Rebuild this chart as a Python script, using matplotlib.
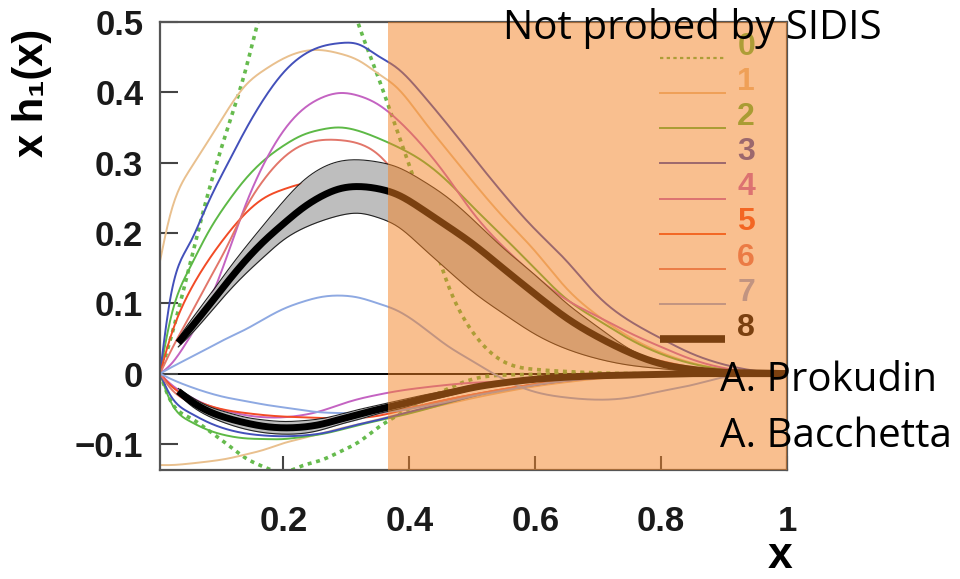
import numpy as np
import matplotlib
matplotlib.use("Agg")
import matplotlib.pyplot as plt

# ---------------- data ----------------
x_grid = [0.004, 0.02, 0.05, 0.08, 0.11, 0.14, 0.17, 0.2, 0.23, 0.26, 0.29, 0.32, 0.35,
          0.38, 0.42, 0.46, 0.5, 0.55, 0.6, 0.65, 0.7, 0.75, 0.8, 0.85, 0.9, 0.95, 1.0]
x_band = [0.033, 0.05, 0.08, 0.11, 0.14, 0.17, 0.2, 0.23, 0.26, 0.29, 0.32, 0.35,
          0.38, 0.42, 0.46, 0.5, 0.55, 0.6, 0.65, 0.7, 0.75, 0.8, 0.85, 0.9, 0.95, 1.0]

# positive branch (models 0..7)
pos0 = [0.0, 0.047, 0.15, 0.255, 0.345, 0.432, 0.535, 0.60, 0.629, 0.62, 0.573, 0.495, 0.423,
        0.347, 0.243, 0.13, 0.06, 0.017, 0.006, 0.003, 0.001, 0, 0, 0, 0, 0, 0]
pos1 = [0.16, 0.225, 0.288, 0.33, 0.373, 0.41, 0.432, 0.448, 0.458, 0.46, 0.455, 0.445, 0.427,
        0.407, 0.363, 0.318, 0.274, 0.222, 0.174, 0.121, 0.082, 0.052, 0.03, 0.015, 0.006, 0.002, 0.0]
pos2 = [0.0, 0.075, 0.148, 0.2, 0.242, 0.277, 0.304, 0.324, 0.339, 0.347, 0.35, 0.345, 0.335,
        0.323, 0.303, 0.274, 0.238, 0.194, 0.149, 0.106, 0.076, 0.049, 0.028, 0.014, 0.006, 0.002, 0.0]
pos3 = [0.0, 0.105, 0.183, 0.242, 0.296, 0.347, 0.392, 0.428, 0.452, 0.465, 0.47, 0.468, 0.452,
        0.435, 0.398, 0.355, 0.31, 0.255, 0.205, 0.16, 0.11, 0.075, 0.05, 0.028, 0.013, 0.004, 0.0]
pos4 = [0.0, 0.012, 0.05, 0.098, 0.166, 0.24, 0.3, 0.345, 0.375, 0.392, 0.399, 0.395, 0.383,
        0.362, 0.325, 0.28, 0.23, 0.18, 0.139, 0.105, 0.081, 0.058, 0.038, 0.02, 0.008, 0.002, 0.0]
pos5 = [0.0, 0.05, 0.115, 0.16, 0.197, 0.228, 0.25, 0.262, 0.27, 0.273, 0.27, 0.262, 0.252,
        0.24, 0.218, 0.196, 0.167, 0.131, 0.097, 0.069, 0.047, 0.029, 0.016, 0.008, 0.003, 0.001, 0.0]
pos6 = [0.0, 0.03, 0.08, 0.13, 0.18, 0.235, 0.277, 0.307, 0.325, 0.332, 0.332, 0.327, 0.312,
        0.282, 0.235, 0.2, 0.165, 0.127, 0.095, 0.07, 0.049, 0.03, 0.018, 0.009, 0.004, 0.001, 0.0]
pos7 = [0.0, 0.008, 0.022, 0.036, 0.05, 0.063, 0.078, 0.092, 0.102, 0.109, 0.111, 0.108, 0.1,
        0.09, 0.067, 0.04, 0.018, -0.008, -0.026, -0.034, -0.037, -0.034, -0.025, -0.016, -0.005, -0.001, 0.0]
# model 8 (central curve and band)
pos8 = [0.044, 0.062, 0.095, 0.129, 0.161, 0.189, 0.213, 0.235, 0.252, 0.263, 0.266, 0.263,
        0.255, 0.234, 0.21, 0.185, 0.149, 0.113, 0.079, 0.052, 0.03, 0.014, 0.006, 0.002, 0.001, 0.0]
pos8_hi = [0.05, 0.072, 0.108, 0.145, 0.18, 0.213, 0.245, 0.273, 0.292, 0.302, 0.304, 0.301,
           0.294, 0.275, 0.251, 0.22, 0.178, 0.14, 0.1, 0.066, 0.035, 0.016, 0.006, 0.002, 0.001, 0.0]
pos8_lo = [0.038, 0.053, 0.083, 0.114, 0.142, 0.167, 0.19, 0.206, 0.217, 0.225, 0.228, 0.222,
           0.21, 0.18, 0.148, 0.117, 0.085, 0.056, 0.035, 0.021, 0.012, 0.007, 0.003, 0.001, 0.0, 0.0]

# negative branch (models 0..7)
neg0 = [0.0, -0.037, -0.062, -0.08, -0.1, -0.12, -0.133, -0.14, -0.131, -0.123, -0.111, -0.097, -0.077,
        -0.06, -0.04, -0.022, -0.008, -0.002, -0.001, 0, 0, 0, 0, 0, 0, 0, 0]
neg1 = [-0.13, -0.13, -0.128, -0.125, -0.121, -0.115, -0.108, -0.099, -0.092, -0.085, -0.078, -0.072, -0.065,
        -0.059, -0.051, -0.043, -0.035, -0.026, -0.018, -0.012, -0.007, -0.004, -0.002, -0.001, 0, 0, 0]
neg2 = [0.0, -0.038, -0.067, -0.08, -0.088, -0.092, -0.093, -0.093, -0.09, -0.086, -0.08, -0.073, -0.067,
        -0.061, -0.052, -0.042, -0.032, -0.023, -0.015, -0.009, -0.005, -0.002, -0.001, 0, 0, 0, 0]
neg3 = [0.0, -0.03, -0.055, -0.069, -0.079, -0.085, -0.088, -0.089, -0.088, -0.085, -0.079, -0.072, -0.066,
        -0.059, -0.05, -0.041, -0.032, -0.023, -0.016, -0.01, -0.006, -0.003, -0.001, 0, 0, 0, 0]
neg4 = [0.0, -0.014, -0.032, -0.045, -0.053, -0.059, -0.062, -0.062, -0.059, -0.053, -0.044, -0.036, -0.03,
        -0.025, -0.02, -0.016, -0.013, -0.011, -0.008, -0.006, -0.004, -0.002, -0.001, 0, 0, 0, 0]
neg5 = [0.0, -0.016, -0.034, -0.045, -0.052, -0.056, -0.059, -0.061, -0.062, -0.063, -0.064, -0.063, -0.06,
        -0.054, -0.045, -0.037, -0.03, -0.022, -0.015, -0.009, -0.005, -0.003, -0.001, 0, 0, 0, 0]
neg6 = [0.0, -0.02, -0.04, -0.052, -0.06, -0.066, -0.07, -0.072, -0.072, -0.07, -0.066, -0.062, -0.057,
        -0.052, -0.045, -0.037, -0.03, -0.022, -0.015, -0.01, -0.006, -0.003, -0.001, 0, 0, 0, 0]
neg7 = [0.0, -0.007, -0.018, -0.027, -0.034, -0.039, -0.044, -0.048, -0.052, -0.055, -0.056, -0.056, -0.055,
        -0.053, -0.047, -0.04, -0.032, -0.024, -0.016, -0.01, -0.006, -0.003, -0.001, 0, 0, 0, 0]
neg8 = [-0.025, -0.037, -0.053, -0.063, -0.07, -0.075, -0.077, -0.076, -0.072, -0.065, -0.058, -0.051,
        -0.045, -0.036, -0.028, -0.02, -0.013, -0.008, -0.005, -0.003, -0.002, -0.001, 0, 0, 0, 0]
neg8_hi = [-0.021, -0.031, -0.046, -0.055, -0.062, -0.066, -0.068, -0.067, -0.064, -0.058, -0.051, -0.045,
           -0.039, -0.031, -0.024, -0.017, -0.011, -0.006, -0.004, -0.002, -0.001, -0.001, 0, 0, 0, 0]
neg8_lo = [-0.029, -0.043, -0.06, -0.071, -0.079, -0.084, -0.086, -0.085, -0.08, -0.072, -0.065, -0.057,
           -0.051, -0.041, -0.032, -0.023, -0.015, -0.01, -0.006, -0.004, -0.002, -0.001, 0, 0, 0, 0]

legend_labels = ["0", "1", "2", "3", "4", "5", "6", "7", "8"]
x_ticks = [0.2, 0.4, 0.6, 0.8, 1.0]
x_tick_labels = ["0.2", "0.4", "0.6", "0.8", "1"]
y_ticks = [-0.1, 0, 0.1, 0.2, 0.3, 0.4, 0.5]
y_tick_labels = ["\u22120.1", "0", "0.1", "0.2", "0.3", "0.4", "0.5"]
sidis_limit = 0.366

colors = ["#66BB4E", "#E9C08E", "#5DB946", "#4350BA", "#C463C2",
          "#F24B26", "#E2766A", "#8EA9E2", "#000000"]


def smooth(x, y, n=500):
    """Natural cubic spline rendering through the read points."""
    x = np.asarray(x, float)
    y = np.asarray(y, float)
    nn = len(x)
    h = np.diff(x)
    A = np.zeros((nn, nn))
    b = np.zeros(nn)
    A[0, 0] = 1.0
    A[-1, -1] = 1.0
    for i in range(1, nn - 1):
        A[i, i - 1] = h[i - 1]
        A[i, i] = 2 * (h[i - 1] + h[i])
        A[i, i + 1] = h[i]
        b[i] = 6 * ((y[i + 1] - y[i]) / h[i] - (y[i] - y[i - 1]) / h[i - 1])
    M = np.linalg.solve(A, b)
    xs = np.linspace(x[0], x[-1], n)
    idx = np.clip(np.searchsorted(x, xs) - 1, 0, nn - 2)
    x0, x1 = x[idx], x[idx + 1]
    hh = h[idx]
    ys = (M[idx] * (x1 - xs) ** 3 / (6 * hh) + M[idx + 1] * (xs - x0) ** 3 / (6 * hh)
          + (y[idx] / hh - M[idx] * hh / 6) * (x1 - xs)
          + (y[idx + 1] / hh - M[idx + 1] * hh / 6) * (xs - x0))
    return xs, ys


fig = plt.figure(figsize=(9.6, 5.79), dpi=100)
ax = fig.add_axes([160 / 960, 1 - 470 / 579, (787 - 160) / 960, (470 - 22) / 579])

ax.axhline(0, color="black", lw=1.4, zorder=1.5)

pos = [pos0, pos1, pos2, pos3, pos4, pos5, pos6, pos7]
neg = [neg0, neg1, neg2, neg3, neg4, neg5, neg6, neg7]
for i in range(8):
    for series in (pos[i], neg[i]):
        xs, ys = smooth(x_grid, series)
        if i == 0:
            ax.plot(xs, ys, color=colors[i], lw=2.6, ls=(0, (1.1, 1.3)), zorder=2)
        else:
            ax.plot(xs, ys, color=colors[i], lw=1.4, zorder=2)

# model 8 band + thick central curve
for c, hi, lo in ((pos8, pos8_hi, pos8_lo), (neg8, neg8_hi, neg8_lo)):
    xs, yh = smooth(x_band, hi)
    _, yl = smooth(x_band, lo)
    ax.fill_between(xs, yl, yh, color="#BEBEBE", zorder=2.2, lw=0)
    ax.plot(xs, yh, color="#222222", lw=0.8, zorder=2.3)
    ax.plot(xs, yl, color="#222222", lw=0.8, zorder=2.3)
    xs, yc = smooth(x_band, c)
    ax.plot(xs, yc, color="black", lw=5, zorder=2.4, solid_capstyle="butt")

# in-plot legend
for i, lab in enumerate(legend_labels):
    yl = 0.449 - 0.05 * i
    if i == 0:
        ax.plot([0.798, 0.902], [yl, yl], color=colors[i], lw=1.6, ls=(0, (1.5, 1.5)), zorder=3)
    elif i == 8:
        ax.plot([0.798, 0.902], [yl, yl], color=colors[i], lw=5.5, zorder=3, solid_capstyle="butt")
    else:
        ax.plot([0.798, 0.902], [yl, yl], color=colors[i], lw=1.4, zorder=3)
    ax.text(0.921, yl + 0.016, lab, color=colors[i], fontsize=23, fontweight="bold",
            family="Liberation Sans", ha="left", va="center", zorder=3)

# "not probed" overlay
ax.axvspan(sidis_limit, 1.0, color="#F58121", alpha=0.5, lw=0, zorder=4)

ax.set_xlim(0.004, 1.0)
ax.set_ylim(-0.137, 0.5)
ax.set_xticks(x_ticks)
ax.set_xticklabels(x_tick_labels)
ax.set_yticks(y_ticks)
ax.set_yticklabels(y_tick_labels)
for lab in ax.get_xticklabels() + ax.get_yticklabels():
    lab.set_family("Liberation Sans")
    lab.set_fontweight("bold")
    lab.set_fontsize(25)
    lab.set_color("#1a1a1a")
ax.tick_params(axis="x", direction="in", length=10, width=1.5, color="#444444", pad=25)
ax.tick_params(axis="y", direction="in", length=13, width=1.5, color="#444444", pad=12)
for s in ax.spines.values():
    s.set_color("#555555")
    s.set_linewidth(1.6)
    s.set_zorder(3.5)

fig.text(32 / 960, 1 - 93 / 579, "x h\u2081(x)", rotation=90, fontsize=30, fontweight="bold",
         family=["Liberation Sans", "DejaVu Sans"], ha="center", va="center")
fig.text(780 / 960, 1 - 568 / 579, "x", fontsize=32, fontweight="bold",
         family="Liberation Sans", ha="center", va="baseline")

fig.text(503 / 960, 1 - 39 / 579, "Not probed by SIDIS", fontsize=29, family="Open Sans",
         ha="left", va="baseline", zorder=10)
fig.text(720 / 960, 1 - 391 / 579, "A. Prokudin", fontsize=29, family="Open Sans",
         ha="left", va="baseline", zorder=10)
fig.text(720 / 960, 1 - 447 / 579, "A. Bacchetta", fontsize=29, family="Open Sans",
         ha="left", va="baseline", zorder=10)

fig.savefig("out.png", dpi=100)
